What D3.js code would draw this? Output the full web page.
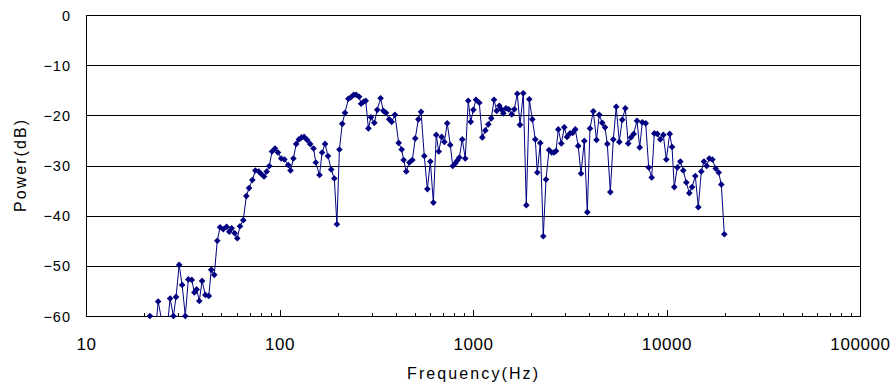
<!DOCTYPE html>
<html>
<head>
<meta charset="utf-8">
<script src="https://cdn.jsdelivr.net/npm/d3@7"></script>
<style>
  body { margin: 0; background: #fff; }
  text { font-family: "Liberation Sans", Arial, sans-serif; fill: #000; }
</style>
</head>
<body>
<svg id="chart"></svg>
<script>
const width = 892;
const height = 389;

// frequency of each point (Hz)
const freqs = [
  21.4, 22.2, 22.9, 23.6, 25.2, 26.2, 27.2, 28.3, 29.2, 30.3,
  31.4, 32.6, 33.8, 35.2, 36.3, 37.3, 38.5, 39.8, 41.4, 43.1,
  44.4, 46.0, 47.7, 49.3, 51.2, 53.3, 55.0, 56.6, 58.7, 60.5,
  62.5, 65.0, 67.4, 69.6, 72.4, 75.0, 78.1, 80.5, 83.2, 85.9,
  88.6, 91.5, 94.8, 98.2, 102, 106, 111, 114, 118, 122,
  126, 130, 134, 139, 144, 150, 154, 161, 166, 172,
  178, 185, 192, 198, 204, 211, 218, 227, 234, 242,
  249, 258, 264, 272, 279, 288, 297, 309, 320, 333,
  344, 355, 369, 380, 395, 413, 428, 438, 452, 469,
  486, 503, 522, 539, 560, 581, 602, 624, 646, 665,
  689, 711, 736, 763, 786, 809, 830, 850, 880, 912,
  945, 973, 1004, 1036, 1078, 1117, 1158, 1200, 1243, 1284,
  1326, 1368, 1401, 1435, 1481, 1529, 1585, 1635, 1694, 1750,
  1819, 1886, 1954, 2026, 2099, 2149, 2227, 2308, 2384, 2470,
  2551, 2622, 2685, 2759, 2860, 2964, 3061, 3171, 3275, 3378,
  3497, 3615, 3760, 3897, 4024, 4185, 4347, 4494, 4652, 4810,
  4944, 5124, 5310, 5497, 5703, 5903, 6125, 6340, 6554, 6768,
  7040, 7270, 7498, 7808, 8091, 8385, 8650, 8964, 9289, 9627,
  9977, 10390, 10680, 10970, 11370, 11790, 12210, 12660, 13120, 13550,
  14090, 14600, 15130, 15620, 16140, 16640, 17250, 17960, 18610, 19200,
  19900
];

// power at each frequency (dB)
const powers = [
  -60.0, -64, -63, -57.1, -63, -63, -56.5, -60.0, -56.2, -49.8,
  -53.8, -60.0, -52.7, -52.8, -55.3, -54.7, -57.0, -53.0, -55.8, -56.0,
  -50.8, -51.8, -45.0, -42.3, -42.7, -42.2, -43.2, -42.5, -43.5, -44.5,
  -42.1, -40.9, -36.1, -34.5, -32.9, -31.0, -31.2, -31.7, -32.2, -31.2,
  -30.1, -27.2, -26.6, -27.4, -28.6, -28.8, -29.9, -31.0, -28.6, -25.7,
  -24.8, -24.4, -24.3, -24.9, -25.7, -26.6, -29.4, -31.9, -27.4, -25.7,
  -28.1, -30.8, -32.6, -41.7, -26.8, -21.7, -19.5, -16.7, -16.4, -15.9,
  -15.9, -16.3, -17.7, -17.3, -17.1, -22.6, -20.4, -21.5, -18.9, -16.6,
  -19.1, -19.5, -20.8, -21.3, -19.9, -25.5, -26.8, -28.9, -31.2, -29.4,
  -28.9, -24.6, -20.8, -19.3, -28.1, -34.7, -29.2, -37.4, -23.9, -27.2,
  -24.3, -25.3, -21.6, -25.9, -30.1, -29.6, -29.0, -28.4, -24.8, -28.6,
  -17.1, -21.3, -18.9, -16.9, -17.5, -24.4, -23.0, -21.8, -20.6, -16.9,
  -19.1, -18.1, -18.8, -19.6, -18.6, -18.8, -19.8, -18.8, -15.7, -21.9,
  -15.6, -37.9, -16.8, -20.8, -24.8, -31.4, -25.5, -44.1, -32.8, -26.9,
  -27.4, -27.4, -27.1, -22.8, -25.6, -22.4, -24.3, -23.6, -23.5, -22.8,
  -26.1, -31.6, -25.1, -39.3, -22.6, -19.2, -24.9, -19.9, -21.5, -22.4,
  -25.7, -35.3, -24.8, -18.3, -25.3, -20.9, -18.6, -25.6, -24.4, -23.7,
  -21.1, -26.4, -21.4, -21.6, -30.4, -32.4, -23.6, -23.7, -24.8, -23.9,
  -28.8, -23.7, -26.3, -34.3, -30.4, -29.2, -31.0, -33.4, -35.5, -34.3,
  -32.1, -38.3, -31.2, -29.2, -30.1, -28.6, -28.8, -30.6, -31.4, -33.8,
  -43.7
];

const xTicks = [10, 100, 1000, 10000, 100000];
const xMinorTicks = [20, 30, 40, 50, 60, 70, 80, 90,
  200, 300, 400, 500, 600, 700, 800, 900,
  2000, 3000, 4000, 5000, 6000, 7000, 8000, 9000,
  20000, 30000, 40000, 50000, 60000, 70000, 80000, 90000];
const yTicks = [0, -10, -20, -30, -40, -50, -60];

const plotLeft = 86, plotRight = 860, plotTop = 15, plotBottom = 316;
const navy = "#000080";

var svg = d3.select("#chart").attr("width", width).attr("height", height);

var xScale = d3.scaleLog().domain([10, 100000]).range([plotLeft, plotRight]);
var yScale = d3.scaleLinear().domain([-60, 0]).range([plotBottom, plotTop]);

// gridlines
svg.append("g")
    .attr("transform", `translate(${plotLeft},0)`)
    .call(d3.axisLeft(yScale).tickValues(yTicks).tickSize(-(plotRight - plotLeft)).tickFormat(""))
    .call(g => g.select(".domain").remove())
    .call(g => g.selectAll("line").attr("stroke", "#000").attr("shape-rendering", "crispEdges"));

// y labels
svg.append("g")
    .selectAll("text")
    .data(yTicks)
    .enter()
    .append("text")
    .attr("x", 71)
    .attr("y", d => yScale(d) + 5.5)
    .attr("text-anchor", "end")
    .style("font-size", "14.5px")
    .style("letter-spacing", "1px")
    .text(d => d === 0 ? "0" : "\u2212" + Math.abs(d));

// plot frame
svg.append("rect")
    .attr("x", plotLeft).attr("y", plotTop)
    .attr("width", plotRight - plotLeft).attr("height", plotBottom - plotTop)
    .attr("fill", "none").attr("stroke", "#000")
    .attr("shape-rendering", "crispEdges");

// x axis: major ticks with labels, minor ticks inward
svg.append("g")
    .attr("transform", `translate(0,${plotBottom})`)
    .call(d3.axisBottom(xScale).tickValues(xTicks).tickSize(-6).tickSizeOuter(0)
        .tickFormat(d3.format("d")))
    .call(g => g.select(".domain").attr("stroke", "#000"))
    .call(g => g.selectAll("line").attr("stroke", "#000").attr("shape-rendering", "crispEdges"))
    .call(g => g.selectAll("text")
        .attr("y", 34).attr("dy", 0)
        .style("font-size", "17px").style("letter-spacing", "0.6px"));

svg.append("g")
    .attr("transform", `translate(0,${plotBottom})`)
    .call(d3.axisBottom(xScale).tickValues(xMinorTicks).tickSize(-3).tickSizeOuter(0).tickFormat(""))
    .call(g => g.select(".domain").remove())
    .call(g => g.selectAll("line").attr("stroke", "#000").attr("shape-rendering", "crispEdges"));

svg.selectAll("g").attr("font-family", null).attr("font-size", null);

// axis titles
svg.append("text")
    .attr("x", 472.5).attr("y", 379)
    .attr("text-anchor", "middle")
    .attr("textLength", 131).attr("lengthAdjust", "spacing")
    .style("font-size", "16px")
    .text("Frequency(Hz)");

svg.append("text")
    .attr("transform", "translate(26,166) rotate(-90)")
    .attr("text-anchor", "middle")
    .attr("textLength", 92).attr("lengthAdjust", "spacing")
    .style("font-size", "16px")
    .text("Power(dB)");

// data
var points = freqs.map((f, i) => [f, powers[i]]);

svg.append("clipPath").attr("id", "plotClip")
    .append("rect")
    .attr("x", plotLeft).attr("y", plotTop)
    .attr("width", plotRight - plotLeft).attr("height", plotBottom - plotTop + 0.5);

var lineGenerator = d3.line()
    .x(d => xScale(d[0]))
    .y(d => yScale(d[1]));

svg.append("path")
    .datum(points)
    .attr("clip-path", "url(#plotClip)")
    .attr("fill", "none")
    .attr("stroke", navy)
    .attr("stroke-width", 1)
    .attr("d", lineGenerator);

var marker = d3.symbol().type(d3.symbolSquare).size(22);

svg.append("g")
    .selectAll("path")
    .data(points.filter(d => d[1] >= -60))
    .enter()
    .append("path")
    .attr("transform", d => `translate(${xScale(d[0])},${yScale(d[1])}) rotate(45)`)
    .attr("fill", navy)
    .attr("d", marker);
</script>
</body>
</html>
